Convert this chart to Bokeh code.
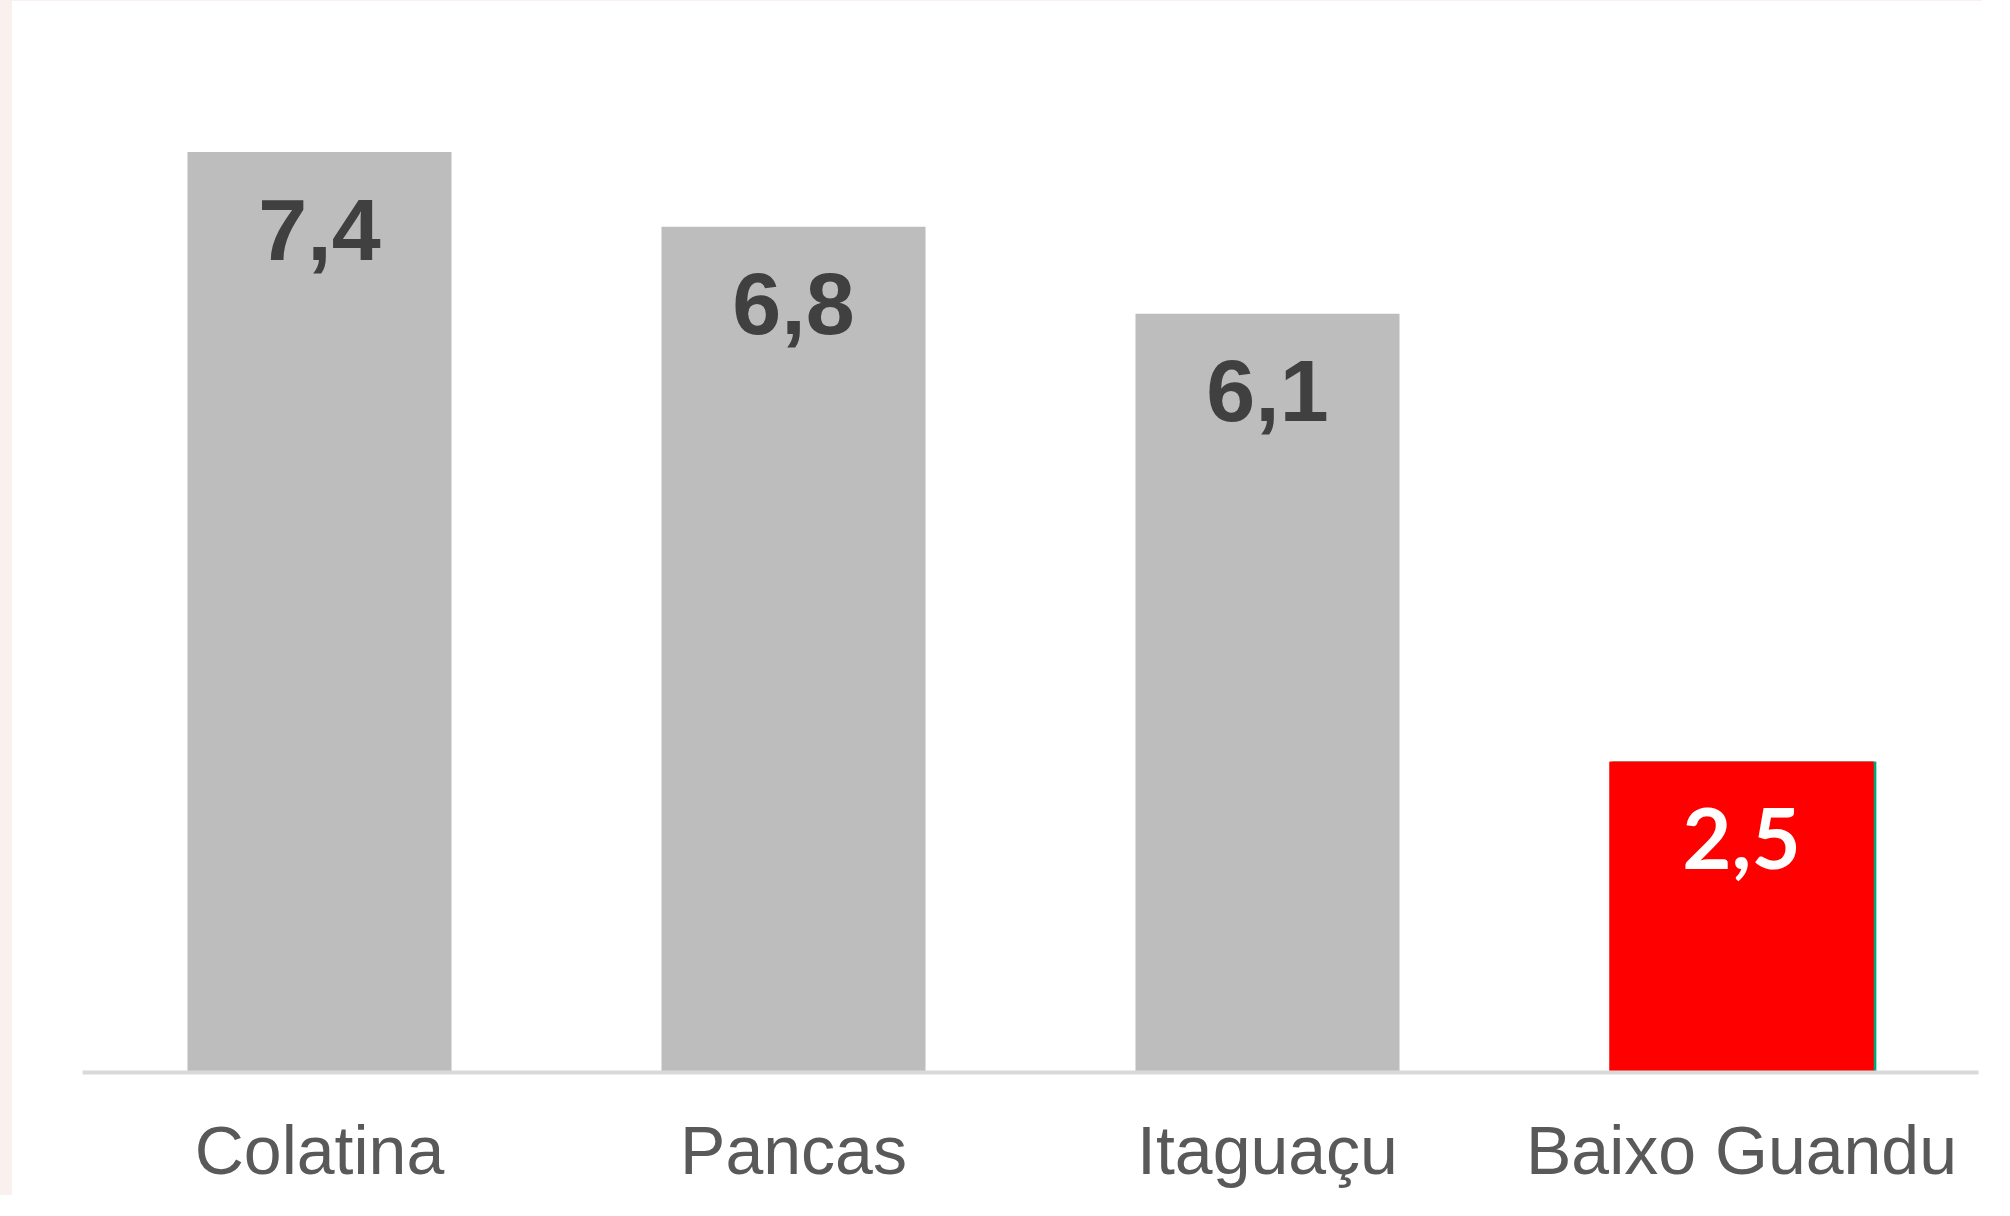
from bokeh.plotting import figure
from bokeh.models import ColumnDataSource, FactorRange, Range1d
from bokeh.transform import dodge
from bokeh.embed import file_html
from bokeh.resources import INLINE

# ---- data ----
municipios = ["Colatina", "Pancas", "Itaguaçu", "Baixo Guandu"]
valores = [7.4, 6.8, 6.1, 2.5]
rotulos = ["7,4", "6,8", "6,1", "2,5"]
destaque = "Baixo Guandu"

GRAY = "#BDBDBD"
RED = "#FF0000"
GREEN = "#00A878"

cores = [RED if m == destaque else GRAY for m in municipios]
cores_txt = ["#FFFFFF" if m == destaque else "#404040" for m in municipios]
fontes = ["Lato" if m == destaque else "Liberation Sans" for m in municipios]
tamanhos = ["85px" if m == destaque else "88px" for m in municipios]

src = ColumnDataSource(dict(x=municipios, top=valores, lab=rotulos, color=cores,
                            tcolor=cores_txt, font=fontes, size=tamanhos))
v_dest = valores[municipios.index(destaque)]
hl = ColumnDataSource(dict(x=[destaque], top=[v_dest]))

W, H = 1982, 1195
p = figure(width=W, height=H, x_range=FactorRange(*municipios, range_padding=0),
           y_range=Range1d(0, 8.45), output_backend="svg", toolbar_location=None,
           min_border_left=70, min_border_right=16, min_border_top=20, min_border_bottom=124)
p.styles = {"border-left": "12px solid #FAF1EE", "border-top": "1px solid #FAF1EE"}
p.background_fill_color = "white"
p.border_fill_color = "white"
p.outline_line_color = None
p.grid.visible = False
p.yaxis.visible = False

# green right edge behind the highlighted bar
p.vbar(x=dodge("x", 0.006, range=p.x_range), top="top", width=0.557, bottom=0,
       source=hl, fill_color=GREEN, line_color=None)
p.vbar(x="x", top="top", width=0.557, bottom=0, source=src, fill_color="color",
       line_color=None)
p.vbar(x="x", top="top", width=0.557, bottom=-0.03,
       source=ColumnDataSource(dict(x=[destaque], top=[v_dest - 0.006])),
       fill_color=RED, line_color=None)

p.text(x="x", y="top", text="lab", source=src, text_align="center",
       text_baseline="alphabetic", y_offset=77, text_font="font",
       text_font_style="bold", text_font_size="size", text_color="tcolor")

ax = p.xaxis[0]
ax.axis_line_color = "#D9D9D9"
ax.axis_line_width = 4
ax.major_tick_line_color = None
ax.minor_tick_line_color = None
ax.major_label_text_font = "Liberation Sans"
ax.major_label_text_font_size = "68px"
ax.major_label_text_color = "#595959"
ax.major_label_standoff = 33

open("out.html", "w").write(file_html(p, INLINE))
